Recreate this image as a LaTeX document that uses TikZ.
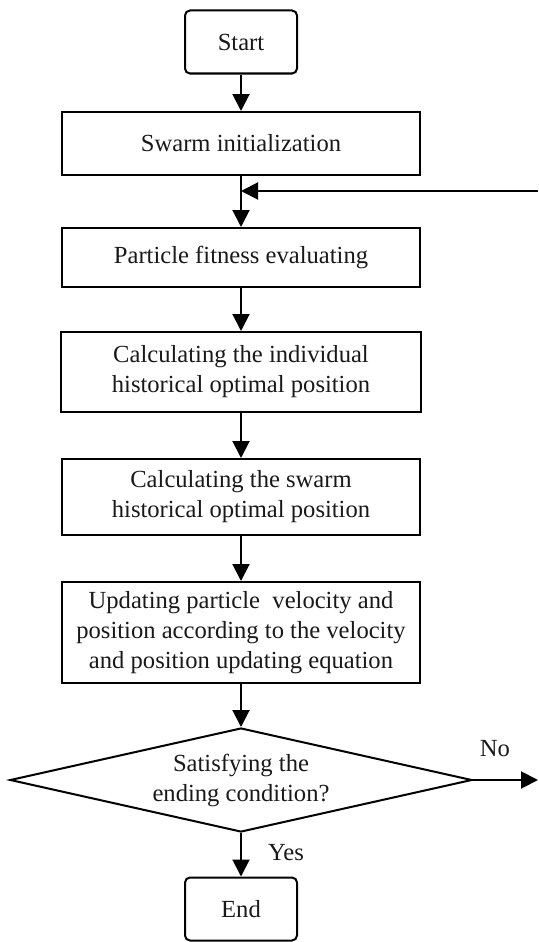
\documentclass[tikz,border=0pt]{standalone}
\usepackage{fontspec}
\setmainfont{Liberation Serif}
\usetikzlibrary{shapes.geometric,arrows.meta}
\begin{document}
\begin{tikzpicture}[x=1pt,y=-1pt,
  every node/.style={font=\fontsize{24.6}{30}\selectfont, text=black!90},
  box/.style={draw, line width=2pt, minimum width=358pt, align=center, inner sep=0pt},
  term/.style={draw, line width=2pt, rounded corners=5pt, minimum width=112pt, minimum height=63pt, inner sep=0pt},
  dec/.style={draw, line width=2pt, diamond, aspect=4.44, minimum width=462pt, minimum height=104pt, inner sep=0pt, align=center},
  flow/.style={line width=2pt, -{Triangle[length=17pt,width=17pt]}},
  lbl/.style={inner sep=0pt}]
\useasboundingbox (0,0) rectangle (538,942);
\node[term] (start) at (241,42) {Start};
\node[box, minimum height=63pt] (swarm) at (241,143.5) {Swarm initialization};
\node[box, minimum height=59pt] (fit) at (241,257.5) {Particle fitness evaluating};
\node[box, minimum height=80pt, minimum width=360pt] (indiv) at (241,372) {Calculating the individual\\ historical optimal position};
\node[box, minimum height=76pt] (shist) at (241,497) {Calculating the swarm\\ historical optimal position};
\node[box, minimum height=101pt] (upd) at (241,632.5) {Updating particle\ \ velocity and\\position according to the velocity\\and position updating equation};
\node[dec] (cond) at (241,780) {Satisfying the\\ending condition?};
\node[term] (end) at (241,909) {End};
\coordinate (fbin) at (538,191);
\coordinate (fbend) at (swarm.south |- fbin);
\coordinate (noend) at (538,780);
\draw[flow] (start) -- (swarm);
\draw[flow] (swarm) -- (fit);
\draw[flow] (fbin) -- (fbend);
\draw[flow] (fit) -- (indiv);
\draw[flow] (indiv) -- (shist);
\draw[flow] (shist) -- (upd);
\draw[flow] (upd) -- (cond);
\draw[flow] (cond) -- (end);
\draw[flow] (cond.east) -- (noend);
\node[lbl] (no) at (495,749) {No};
\node[lbl] (yes) at (286,853) {Yes};
\end{tikzpicture}
\end{document}
